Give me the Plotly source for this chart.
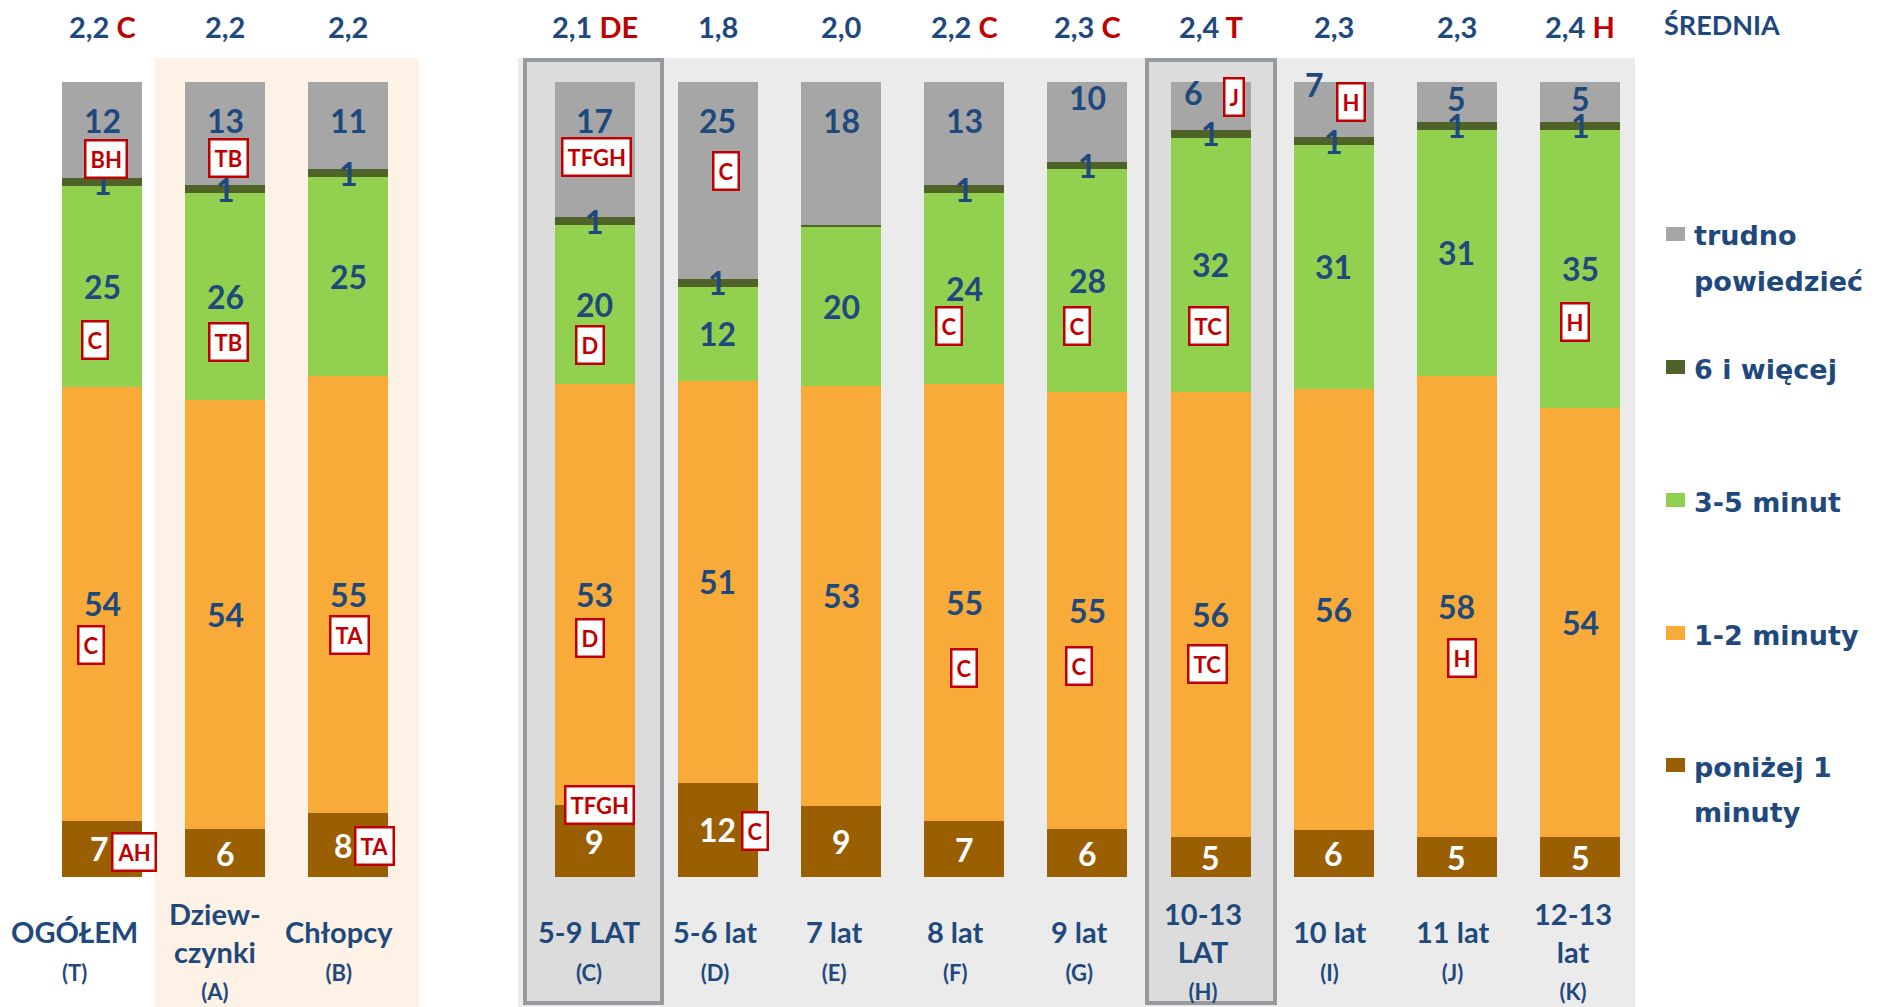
import plotly.graph_objects as go

# ---------------- data ----------------
codes = ["T", "A", "B", "C", "D", "E", "F", "G", "H", "I", "J", "K"]
main_labels = ["OGÓŁEM", "Dziew-<br>czynki", "Chłopcy", "5-9 LAT", "5-6 lat", "7 lat",
               "8 lat", "9 lat", "10-13<br>LAT", "10 lat", "11 lat", "12-13<br>lat"]
sub_labels = ["(T)", "(A)", "(B)", "(C)", "(D)", "(E)", "(F)", "(G)", "(H)", "(I)", "(J)", "(K)"]

avg_values = ["2,2", "2,2", "2,2", "2,1", "1,8", "2,0", "2,2", "2,3", "2,4", "2,3", "2,3", "2,4"]
avg_sig = ["C", "", "", "DE", "", "", "C", "C", "T", "", "", "H"]

below_1_min = [7, 6, 8, 9, 12, 9, 7, 6, 5, 6, 5, 5]
min_1_2 = [54, 54, 55, 53, 51, 53, 55, 55, 56, 56, 58, 54]
min_3_5 = [25, 26, 25, 20, 12, 20, 24, 28, 32, 31, 31, 35]
min_6_plus = [1, 1, 1, 1, 1, 0.3, 1, 1, 1, 1, 1, 1]
hard_to_say = [12, 13, 11, 17, 25, 18, 13, 10, 6, 7, 5, 5]

series_names = ["poniżej 1<br>minuty", "1-2 minuty", "3-5 minut", "6 i więcej", "trudno<br>powiedzieć"]
series_values = [below_1_min, min_1_2, min_3_5, min_6_plus, hard_to_say]
series_colors = ["#9A5F02", "#F9AB3A", "#92D050", "#4F6228", "#A6A6A6"]
label_colors = ["#FFFFFF", "#1F497D", "#1F497D", "#1F497D", "#1F497D"]

# significance badges: (category, series index, text, dx px, dy px)
badges = [
    ("T", 4, "BH", 4, 39), ("T", 2, "C", -7, 53), ("T", 1, "C", -11, 41), ("T", 0, "AH", 32, 3),
    ("A", 4, "TB", 3, 38), ("A", 2, "TB", 3, 45),
    ("B", 1, "TA", 1, 40), ("B", 0, "TA", 26, 1),
    ("C", 4, "TFGH", 2, 37), ("C", 2, "D", -5, 40), ("C", 1, "D", -5, 43), ("C", 0, "TFGH", 5, -36),
    ("D", 4, "C", 8, 51), ("D", 0, "C", 37, 1),
    ("F", 2, "C", -15, 37), ("F", 1, "C", 0, 65),
    ("G", 2, "C", -10, 45), ("G", 1, "C", -8, 55),
    ("H", 4, "J", 23, -9), ("H", 2, "TC", -2, 61), ("H", 1, "TC", -3, 49),
    ("I", 4, "H", 17, -8),
    ("J", 1, "H", 5, 51),
    ("K", 2, "H", -5, 53),
]
label_nudges = {("G", 4): (0, -23), ("H", 4): (-17, -13), ("I", 4): (-19, -25),
                ("T", 0): (-3, 0), ("B", 0): (-5, 0), ("J", 4): (0, -3), ("K", 4): (0, -3)}
# horizontal shift (px) of the category captions below the bars
caption_shift = [-28, -10, -9, -6, -3, -7, -9, -8, -8, -4, -4, -7]

# ---------------- layout helpers ----------------
W, H = 1877, 1007
M_T, M_B = 82, 130
PLOT_H = H - M_T - M_B
SLOT_PX = 123.17
FIRST_PX = 102
BLUE = "#1F497D"
RED = "#C00000"
FONT = "Lato, 'Open Sans', sans-serif"
LEG_FONT = "'DejaVu Sans', Verdana, sans-serif"


def px2x(px):
    return px / W


def py2y(py):
    return (H - M_B - py) / PLOT_H


# slot positions (one empty slot between the gender group and the age groups)
pos = [i + (1 if i >= 3 else 0) for i in range(len(codes))]
x0 = -FIRST_PX / SLOT_PX
x1 = x0 + W / SLOT_PX

fig = go.Figure()
for name, vals, col in zip(series_names, series_values, series_colors):
    fig.add_trace(go.Bar(
        x=pos, y=vals, name=name.replace("<br>", " "), marker=dict(color=col, line=dict(width=0)),
        width=0.65, showlegend=False,
        hovertemplate="%{y:.0f}%<extra>" + name.replace("<br>", " ") + "</extra>",
    ))

# normalized stacks for label positions
totals = [sum(s[i] for s in series_values) for i in range(len(codes))]
anchors = {}
for i, c in enumerate(codes):
    cum = 0.0
    for si, vals in enumerate(series_values):
        h = vals[i] / totals[i] * 100
        center = cum + h / 2
        if si == 4:
            center = max(center, 95.2)
        anchors[(c, si)] = (pos[i], center)
        cum += h

annotations = []
# value labels
for i, c in enumerate(codes):
    for si, vals in enumerate(series_values):
        v = vals[i]
        if v < 0.5:
            continue
        x, y = anchors[(c, si)]
        dx, dy = label_nudges.get((c, si), (0, 0))
        annotations.append(dict(
            x=x, y=y, xref="x", yref="y", text=str(int(round(v))), showarrow=False,
            xshift=dx, yshift=-dy,
            font=dict(family=FONT, size=32, color=label_colors[si], weight="bold"),
        ))

# badges
for c, si, txt, dx, dy in badges:
    x, y = anchors[(c, si)]
    annotations.append(dict(
        x=x, y=y, xref="x", yref="y", text=txt, showarrow=False,
        xshift=dx, yshift=-dy, bgcolor="white", bordercolor=RED, borderwidth=2.5, borderpad=4,
        font=dict(family=FONT, size=22, color=RED, weight="bold"),
    ))

# averages on top
for i, c in enumerate(codes):
    sig = f" <span style='color:{RED}'>{avg_sig[i]}</span>" if avg_sig[i] else ""
    annotations.append(dict(
        x=pos[i], y=py2y(26), xref="x", yref="paper", text=avg_values[i] + sig, showarrow=False,
        font=dict(family=FONT, size=29, color=BLUE, weight="bold"), yanchor="middle",
    ))
annotations.append(dict(
    x=px2x(1662), y=py2y(24), xref="paper", yref="paper", text="ŚREDNIA", showarrow=False,
    xanchor="left", yanchor="middle", font=dict(family=FONT, size=27, color=BLUE, weight="bold"),
))

# category labels
for i, c in enumerate(codes):
    annotations.append(dict(
        x=pos[i], y=py2y(950), xref="x", yref="paper", showarrow=False, yanchor="middle",
        xshift=caption_shift[i],
        text=f"{main_labels[i]}<br><span style='font-size:22px'>{sub_labels[i]}</span>",
        font=dict(family=FONT, size=29, color=BLUE, weight="bold"),
    ))

# manual legend
shapes = []
leg_y = [234, 367, 500, 633, 765]
leg_line_gap = 45
for k, si in enumerate([4, 3, 2, 1, 0]):
    cy = leg_y[k]
    shapes.append(dict(type="rect", xref="paper", yref="paper", x0=px2x(1666), x1=px2x(1685),
                       y0=py2y(cy + 7), y1=py2y(cy - 7), fillcolor=series_colors[si],
                       line=dict(width=0), layer="above"))
    for j, line in enumerate(series_names[si].split("<br>")):
        annotations.append(dict(
            x=px2x(1692), y=py2y(cy + 2 + j * leg_line_gap), xref="paper", yref="paper",
            text=line, showarrow=False, xanchor="left", yanchor="middle",
            font=dict(family=LEG_FONT, size=27, color=BLUE, weight="bold"),
        ))

# background panels
shapes += [
    dict(type="rect", xref="paper", yref="paper", x0=px2x(155), x1=px2x(419),
         y0=py2y(1010), y1=py2y(58), fillcolor="#FDF2E5", line=dict(width=0), layer="below"),
    dict(type="rect", xref="paper", yref="paper", x0=px2x(518), x1=px2x(1635),
         y0=py2y(1010), y1=py2y(58), fillcolor="#EBEBEB", line=dict(width=0), layer="below"),
    dict(type="rect", xref="paper", yref="paper", x0=px2x(525), x1=px2x(662),
         y0=py2y(1003), y1=py2y(60), fillcolor="#DCDCDC", line=dict(width=4, color="#969A9E"),
         layer="below"),
    dict(type="rect", xref="paper", yref="paper", x0=px2x(1147), x1=px2x(1275),
         y0=py2y(1003), y1=py2y(60), fillcolor="#DCDCDC", line=dict(width=4, color="#969A9E"),
         layer="below"),
]

fig.update_layout(
    width=W, height=H,
    margin=dict(l=0, r=0, t=M_T, b=M_B, pad=0),
    barmode="stack", barnorm="percent",
    paper_bgcolor="white", plot_bgcolor="rgba(0,0,0,0)",
    showlegend=False,
    xaxis=dict(range=[x0, x1], visible=False, fixedrange=True),
    yaxis=dict(range=[0, 100], visible=False, fixedrange=True),
    annotations=annotations, shapes=shapes,
    font=dict(family=FONT, color=BLUE),
)

fig.write_html("out.html", config={"displayModeBar": False},
               post_script="document.body.style.margin='0';document.body.style.overflow='hidden';")
